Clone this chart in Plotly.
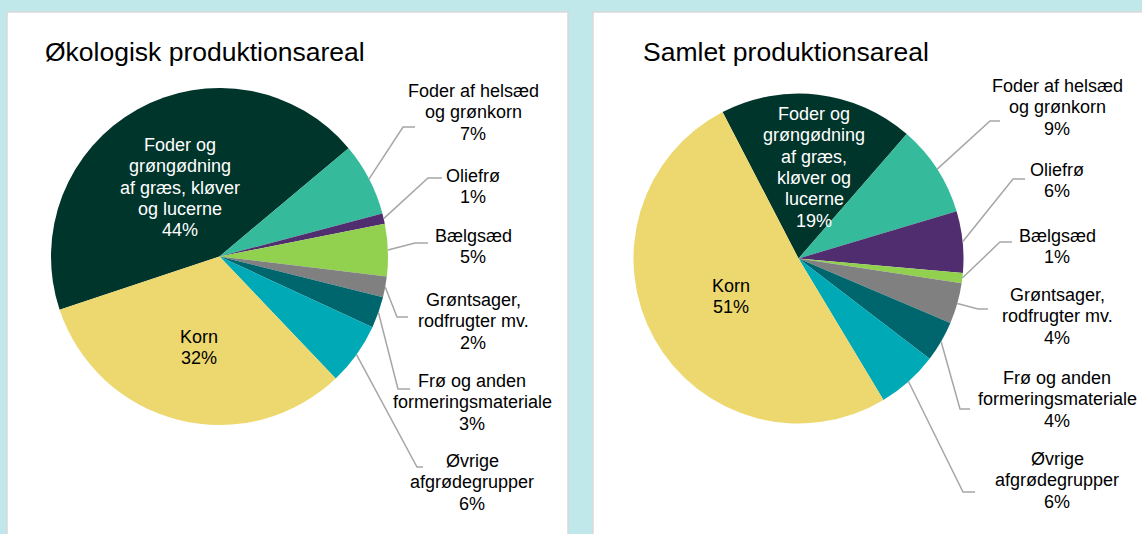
import math
import plotly.graph_objects as go

W, H = 1142, 534

# ---------------- data ----------------
categories = [
    "Foder og grøngødning af græs, kløver og lucerne",
    "Foder af helsæd og grønkorn",
    "Oliefrø",
    "Bælgsæd",
    "Grøntsager, rodfrugter mv.",
    "Frø og anden formeringsmateriale",
    "Øvrige afgrødegrupper",
    "Korn",
]
oeko_values = [44, 7, 1, 5, 2, 3, 6, 32]
samlet_values = [19, 9, 6, 1, 4, 4, 6, 51]
titles = ["Økologisk produktionsareal", "Samlet produktionsareal"]

# label line breaks (text only)
oeko_label_lines = [
    ["Foder og", "grøngødning", "af græs, kløver", "og lucerne"],
    ["Foder af helsæd", "og grønkorn"],
    ["Oliefrø"],
    ["Bælgsæd"],
    ["Grøntsager,", "rodfrugter mv."],
    ["Frø og anden", "formeringsmateriale"],
    ["Øvrige", "afgrødegrupper"],
    ["Korn"],
]
samlet_label_lines = [
    ["Foder og", "grøngødning", "af græs,", "kløver og", "lucerne"],
    ["Foder af helsæd", "og grønkorn"],
    ["Oliefrø"],
    ["Bælgsæd"],
    ["Grøntsager,", "rodfrugter mv."],
    ["Frø og anden", "formeringsmateriale"],
    ["Øvrige", "afgrødegrupper"],
    ["Korn"],
]

# ---------------- styles / layout ----------------
colors = ["#00352B", "#35BA9B", "#4F2D6F", "#92D050", "#808080", "#00666E", "#00A9B6", "#ECD86F"]
text_colors = ["white", "black", "black", "black", "black", "black", "black", "black"]
BG = "#C0E7E9"
FONT = "Liberation Sans, Arial, sans-serif"
LEADER = "#A6A6A6"
LSP = 21.3

pies = [
    dict(values=oeko_values, lines=oeko_label_lines, title=titles[0],
         cx=219.5, cy=256.5, r=168.5, rotation=-108.4,
         title_x=43, title_y=52,
         label_pos=[(180, 145), (473, 91), (473, 176), (473, 236),
                    (473, 300), (472, 381), (472, 461), (199, 337)],
         leaders=[None, (403, 127, 415), (428, 178, 442), (415, 243, 428),
                  (397, 317, 408), (398, 389, 410), (417, 467, 423), None]),
    dict(values=samlet_values, lines=samlet_label_lines, title=titles[1],
         cx=798.5, cy=258.5, r=165, rotation=-27.4,
         title_x=641, title_y=52,
         label_pos=[(814, 114), (1057, 86), (1057, 170), (1057, 236),
                    (1057, 295), (1057, 378), (1057, 459), (731, 286)],
         leaders=[None, (990, 121, 1000), (1013, 179, 1025), (1000, 242, 1012),
                  (978, 309, 988), (960, 409, 970), (963, 492, 975), None]),
]


def px(x):
    return x / W


def py(y):
    return 1 - y / H


fig = go.Figure()
annotations = []
shapes = [
    dict(type="rect", xref="paper", yref="paper", x0=px(7), x1=px(568), y0=py(12), y1=py(545),
         fillcolor="white", line=dict(color="#D9D9D9", width=1.5), layer="below"),
    dict(type="rect", xref="paper", yref="paper", x0=px(593), x1=px(1150), y0=py(12), y1=py(545),
         fillcolor="white", line=dict(color="#D9D9D9", width=1.5), layer="below"),
]

for p in pies:
    cx, cy, r = p["cx"], p["cy"], p["r"]
    fig.add_trace(go.Pie(
        labels=categories, values=p["values"], sort=False, direction="clockwise",
        rotation=p["rotation"], textinfo="none", hoverinfo="label+percent",
        marker=dict(colors=colors, line=dict(width=0)), showlegend=False,
        domain=dict(x=[px(cx - r), px(cx + r)], y=[py(cy + r), py(cy - r)]),
    ))
    annotations.append(dict(text=p["title"], x=px(p["title_x"]), y=py(p["title_y"]),
                            xref="paper", yref="paper", xanchor="left", yanchor="middle",
                            showarrow=False, font=dict(family=FONT, size=26.5, color="black")))
    total = sum(p["values"])
    start = p["rotation"]
    for i, v in enumerate(p["values"]):
        pct = f"{round(100 * v / total)}%"
        lines = p["lines"][i] + [pct]
        lx, ly = p["label_pos"][i]
        for k, t in enumerate(lines):
            annotations.append(dict(text=t, x=px(lx), y=py(ly + k * LSP), xref="paper", yref="paper",
                                    xanchor="center", yanchor="middle", showarrow=False,
                                    font=dict(family=FONT, size=18, color=text_colors[i])))
        mid = math.radians(start + 360 * (v / total) / 2)
        start += 360 * v / total
        ld = p["leaders"][i]
        if ld is not None:
            sx = cx + r * math.sin(mid)
            sy = cy - r * math.cos(mid)
            ex, ey, endx = ld
            path = f"M {px(sx)},{py(sy)} L {px(ex)},{py(ey)} L {px(endx)},{py(ey)}"
            shapes.append(dict(type="path", xref="paper", yref="paper", path=path,
                               line=dict(color=LEADER, width=1.5)))

fig.update_layout(
    width=W, height=H, autosize=False,
    margin=dict(l=0, r=0, t=0, b=0),
    paper_bgcolor=BG, plot_bgcolor=BG,
    annotations=annotations, shapes=shapes,
)

fig.write_html("out.html", config={"displayModeBar": False},
               post_script="document.body.style.margin='0px';")
